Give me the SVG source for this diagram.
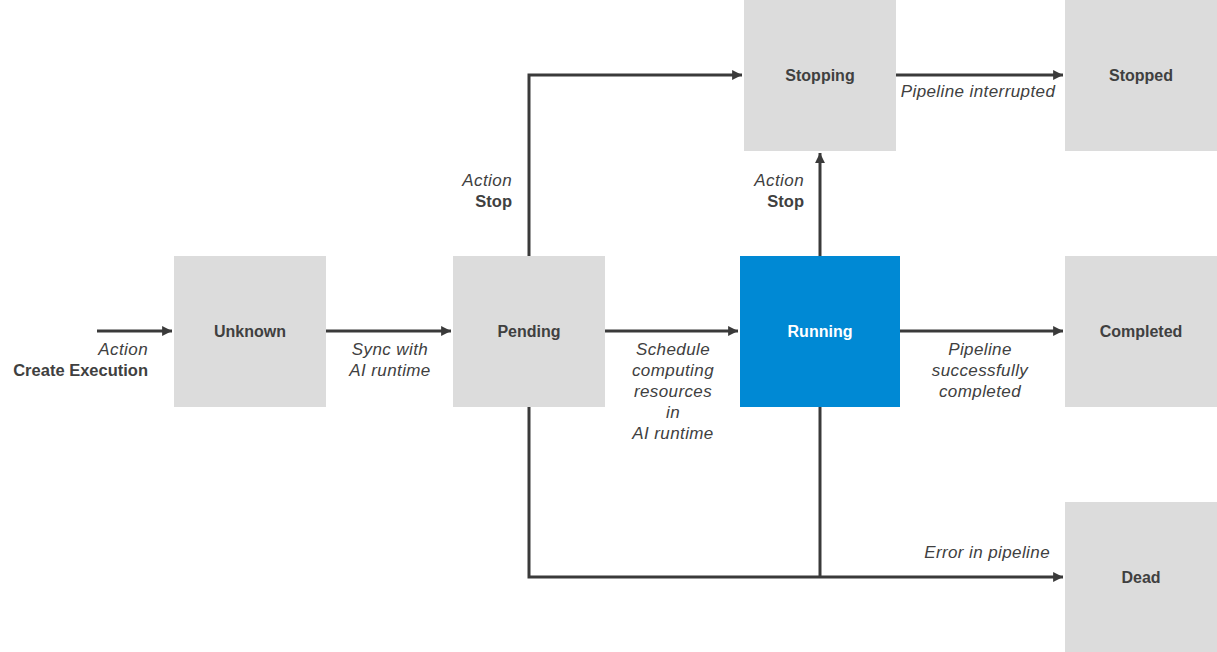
<svg xmlns="http://www.w3.org/2000/svg" width="1217" height="652" viewBox="0 0 1217 652">
<defs>
<marker id="ah" viewBox="0 0 10 10" refX="10" refY="5" markerWidth="3.3" markerHeight="3.3" orient="auto" markerUnits="strokeWidth">
<path d="M0,0 L10,5 L0,10 z" fill="#3a3a3a"/>
</marker>
<style>
.n{fill:#dcdcdc}
.r{fill:#0089d4}
.t{font-family:"Liberation Sans",Arial,sans-serif;font-size:16px;font-weight:bold;fill:#404040;text-anchor:middle}
.tw{fill:#ffffff}
.c{fill:none;stroke:#3a3a3a;stroke-width:3}
.l{font-family:"Liberation Sans",Arial,sans-serif;font-size:17px;font-style:italic;fill:#404040;letter-spacing:0.4px}
.b{font-family:"Liberation Sans",Arial,sans-serif;font-size:16.5px;font-weight:bold;fill:#404040}
.m{text-anchor:middle}
.e{text-anchor:end}
</style>
</defs>
<rect width="1217" height="652" fill="#ffffff"/>
<g id="connectors">
<path class="c" d="M97,331 H172" marker-end="url(#ah)"/>
<path class="c" d="M326,331 H451" marker-end="url(#ah)"/>
<path class="c" d="M605,331 H738" marker-end="url(#ah)"/>
<path class="c" d="M900,331 H1063" marker-end="url(#ah)"/>
<path class="c" d="M529,256 V75 H742" marker-end="url(#ah)"/>
<path class="c" d="M896,75 H1063" marker-end="url(#ah)"/>
<path class="c" d="M820,256 V153" marker-end="url(#ah)"/>
<path class="c" d="M529,406 V577 H1063" marker-end="url(#ah)"/>
<path class="c" d="M820,406 V577"/>
</g>
<g id="labels">
<text class="l e" x="148" y="355">Action</text>
<text class="b e" x="148" y="376">Create Execution</text>
<text class="l m" x="390" y="355">Sync with</text>
<text class="l m" x="390" y="376">AI runtime</text>
<text class="l m" x="673" y="355">Schedule</text>
<text class="l m" x="673" y="376">computing</text>
<text class="l m" x="673" y="397">resources</text>
<text class="l m" x="673" y="418">in</text>
<text class="l m" x="673" y="439">AI runtime</text>
<text class="l m" x="980" y="355">Pipeline</text>
<text class="l m" x="980" y="376">successfully</text>
<text class="l m" x="980" y="397">completed</text>
<text class="l m" x="978" y="97">Pipeline interrupted</text>
<text class="l e" x="512" y="186">Action</text>
<text class="b e" x="512" y="207">Stop</text>
<text class="l e" x="804" y="186">Action</text>
<text class="b e" x="804" y="207">Stop</text>
<text class="l e" x="1050" y="558">Error in pipeline</text>
</g>
<g id="unknown"><rect class="n" x="174" y="256" width="152" height="151"/><text class="t" x="250" y="337">Unknown</text></g>
<g id="pending"><rect class="n" x="453" y="256" width="152" height="151"/><text class="t" x="529" y="337">Pending</text></g>
<g id="running"><rect class="r" x="740" y="256" width="160" height="151"/><text class="t tw" x="820" y="337">Running</text></g>
<g id="stopping"><rect class="n" x="744" y="0" width="152" height="151"/><text class="t" x="820" y="81">Stopping</text></g>
<g id="stopped"><rect class="n" x="1065" y="0" width="152" height="151"/><text class="t" x="1141" y="81">Stopped</text></g>
<g id="completed"><rect class="n" x="1065" y="256" width="152" height="151"/><text class="t" x="1141" y="337">Completed</text></g>
<g id="dead"><rect class="n" x="1065" y="502" width="152" height="150"/><text class="t" x="1141" y="583">Dead</text></g>
</svg>
